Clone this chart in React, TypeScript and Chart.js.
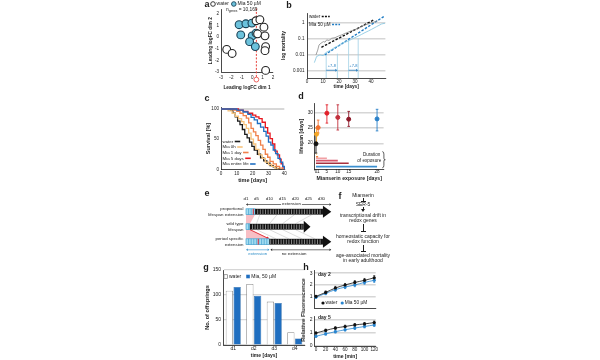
import React, { useEffect, useRef } from "react";
import { Chart, registerables } from "chart.js";

Chart.register(...registerables);

const FF = "'Liberation Sans', Arial, Helvetica, sans-serif";
const INK = "#1c1c1c";
const GRID = "#d6d6d6";

/* ---------------- a: MDS ---------------- */
const mdsWaterX = [-2.45, -1.93, 0.37, 0.74, 1.13, 0.52, 1.23, 1.29, 1.23, 1.29];
const mdsWaterY = [-1.05, -1.4, 1.42, 1.51, 0.87, 0.29, 0.12, -0.81, -1.16, -2.86];
const mdsMiaX = [-1.26, -0.61, -0.03, -1.1, 0.0, -0.25, 0.3, 0.37];
const mdsMiaY = [1.08, 1.16, 1.22, 0.2, 0.12, -0.38, -0.81, 0.35];
const mdsTicks = [-3, -2, -1, 0, 1, 2];
const mdsCut = 0.4;
const mdsLegend = ["water", "Mia 50 µM"];
const nGenesLabel = "= 10,169";

/* ---------------- b: mortality ---------------- */
const mortWaterRawT = [5.6, 6.7, 7.5, 8.75, 10.2, 11.25, 12.3, 13.75, 15.4, 17.5, 19.6, 21.7, 23.75, 25.8, 27.9, 30, 32, 34, 36.25, 38, 39.4, 41, 42.5, 44];
const mortWaterRaw = [0.01, 0.02, 0.042, 0.054, 0.068, 0.063, 0.087, 0.08, 0.11, 0.12, 0.15, 0.18, 0.22, 0.27, 0.33, 0.38, 0.46, 0.6, 0.75, 0.85, 0.96, 1.05, 1.2, 1.35];
const mortMiaRawT = [4.6, 6, 8.1, 10.2, 11.7, 14.4, 17.5, 19.5, 21.7, 24.8, 27.9, 30, 32, 34, 36.25, 38.5, 40.4, 43.5, 46.7, 48.75];
const mortMiaRaw = [0.0033, 0.008, 0.01, 0.009, 0.014, 0.019, 0.03, 0.036, 0.054, 0.068, 0.095, 0.12, 0.15, 0.19, 0.25, 0.32, 0.4, 0.59, 0.87, 0.96];
const mortWaterFitT = [9, 42];
const mortWaterFit = [0.03, 1.6];
const mortMiaFitT = [11, 48.7];
const mortMiaFit = [0.01, 2.8];
const mortTicks = [0.001, 0.01, 0.1, 1];
const mortTickLabels = ["0.001", "0.01", "0.1", "1"];
const mortXTicks = [0, 10, 20, 30, 40];
const mortLegend = ["water", "Mia 50 µM"];
const shiftDays = [12, 19, 26, 32];
const shiftLevels = [0.012, 0.012, 0.11, 0.11];
const shiftArrowLevel = 0.0011;
const shiftLabelLevel = 0.0021;
const shiftLabel = "+7-8";

/* ---------------- c: survival ---------------- */
const survLabels = ["water", "Mia 0h", "Mia 1 day", "Mia 5 days", "Mia entire life"];
const survColors = ["#1a1a1a", "#f6c27c", "#f0804a", "#e8161e", "#1f6fc2"];
const survWaterT = [0, 6, 7.5, 9, 10.5, 12, 13.5, 15, 16.5, 18, 19.5, 21, 23, 25, 27, 29, 31, 33, 35, 37];
const survWater = [100, 98, 93, 87, 80, 74, 66, 58, 52, 45, 38, 32, 25, 19, 14, 10, 6, 4, 1, 0];
const surv0hT = [0, 4.5, 7, 9, 11, 13, 14.5, 16, 17.5, 19, 20.5, 22, 24, 26, 28, 30, 32, 34, 36];
const surv0h = [100, 97, 93, 88, 84, 79, 74, 68, 60, 50, 42, 33, 24, 18, 12, 8, 5, 2, 0];
const surv1dT = [0, 8, 10, 12, 14, 16, 17.5, 19, 20.5, 22, 23.5, 25, 26.5, 28, 29.5, 31, 33, 35, 37, 39];
const surv1d = [100, 98, 96, 93, 89, 85, 77, 68, 62, 56, 48, 40, 33, 25, 20, 13, 9, 5, 2, 0];
const surv5dT = [0, 11, 14, 17, 20, 22, 24, 26, 28, 29.5, 31, 32.5, 34, 35.5, 37, 38, 39, 40];
const surv5d = [100, 98, 96, 93, 90, 87, 84, 78, 69, 60, 51, 42, 30, 24, 17, 9, 4, 0];
const survLifeT = [0, 10, 14, 17, 19, 21, 23, 25, 27, 28.5, 30, 31.5, 33, 34.5, 36, 37.5, 39, 40];
const survLife = [100, 98, 95, 91, 86, 82, 76, 70, 63, 55, 45, 40, 32, 26, 18, 12, 5, 0];
const survYTicks = [0, 50, 100];
const survXTicks = [0, 10, 20, 30, 40];

/* ---------------- d: exposure ---------------- */
const expDays = [0, 0.25, 1, 5, 10, 15, 28];
const expLifespan = [19.8, 23, 25.2, 30, 28.6, 28, 28.1];
const expErrLow = [16.7, 20, 23.4, 26.7, 24.4, 25.6, 24.1];
const expErrHigh = [23.3, 25, 27.7, 32.8, 32.8, 30.6, 31.3];
const expColors = ["#111111", "#f3a628", "#f07030", "#e2202a", "#c2303c", "#8e1a2a", "#2a80c8"];
const durDays = [0.25, 1, 5, 10, 15, 28];
const durLevel = [16.3, 15.5, 15, 14.2, 13.3, 12.2];
const durColors = ["#f3b650", "#f08040", "#f2a0a4", "#d8566a", "#a8303e", "#3a8fd0"];
const expXTicks = [0, 1, 5, 10, 15, 28];
const expYTicks = [20, 25, 30];
const durText = ["Duration", "of exposure"];

/* ---------------- e: diagram ---------------- */
const eDayTicks = [1, 5, 10, 15, 20, 25, 30];
const eRows = ["proportional", "wild type", "period specific"];
const eRowsSub = ["lifespan extension", "lifespan", "extension"];
const eRowY = [25.7, 40.7, 55.7];
const eBlueEnd = [4.5, 2.5, 10];
const eBodyEnd = [30.6, 23.2, 30.6];
const eTipEnd = [33.8, 25.8, 33.8];
const eRedMarks = [[3.8], [], [5.7]];
const eGuideDays = [5, 10, 15, 20];

/* ---------------- g: offspring ---------------- */
const offDays = ["d1", "d2", "d3", "d4"];
const offWater = [108.5, 122, 86.8, 25.6];
const offMia = [116, 98.6, 84, 13];
const offYTicks = [0, 50, 100, 150];
const offLegend = ["water", "Mia, 50 µM"];

/* ---------------- h: fluorescence ---------------- */
const fluoTime = [0, 20, 40, 60, 80, 100, 120];
const fluoD2Water = [1.0, 1.34, 1.72, 1.98, 2.2, 2.38, 2.6];
const fluoD2Mia = [0.92, 1.26, 1.58, 1.8, 1.98, 2.2, 2.38];
const fluoD2Err = [0.08, 0.12, 0.14, 0.13, 0.15, 0.16, 0.18];
const fluoD5Water = [1.0, 1.2, 1.38, 1.5, 1.62, 1.7, 1.8];
const fluoD5Mia = [0.75, 0.93, 1.1, 1.25, 1.38, 1.5, 1.62];
const fluoD5Err = [0.08, 0.09, 0.1, 0.1, 0.1, 0.11, 0.12];
const fluoXTicks = [0, 20, 40, 60, 80, 100, 120];
const fluoD2Ticks = [1, 2, 3];
const fluoD5Ticks = [0, 1, 2];
const fluoLegend = ["water", "Mia 50 µM"];

/* ---------------- helpers ---------------- */
const fnt = (s: number, b = false) => `${b ? "bold " : ""}${s}px ${FF}`;

function txt(ctx: any, s: string, x: number, y: number, size: number, o: any = {}) {
  ctx.save();
  ctx.font = fnt(size, !!o.bold);
  ctx.fillStyle = o.color || INK;
  ctx.textAlign = o.align || "left";
  ctx.textBaseline = "middle";
  const w = ctx.measureText(s).width;
  if (o.bg) {
    const x0 = o.align === "center" ? x - w / 2 : o.align === "right" ? x - w : x;
    ctx.fillStyle = o.bg;
    ctx.fillRect(x0 - 1, y - size / 2 - 0.5, w + 2, size + 1);
    ctx.fillStyle = o.color || INK;
  }
  ctx.fillText(s, x, y);
  ctx.restore();
  return w;
}
function seg(ctx: any, a: number, b: number, c: number, d: number) {
  ctx.beginPath();
  ctx.moveTo(a, b);
  ctx.lineTo(c, d);
  ctx.stroke();
}
function poly(ctx: any, pts: number[][]) {
  ctx.beginPath();
  pts.forEach((p, i) => (i ? ctx.lineTo(p[0], p[1]) : ctx.moveTo(p[0], p[1])));
  ctx.closePath();
  ctx.fill();
}
function dot(ctx: any, x: number, y: number, r: number, fill: string, stroke?: string) {
  ctx.save();
  ctx.beginPath();
  ctx.arc(x, y, r, 0, Math.PI * 2);
  ctx.fillStyle = fill;
  ctx.fill();
  if (stroke) {
    ctx.strokeStyle = stroke;
    ctx.lineWidth = 0.9;
    ctx.stroke();
  }
  ctx.restore();
}
function head(ctx: any, x: number, y: number, dir: number, s = 2) {
  poly(ctx, [[x, y], [x - dir * s * 1.4, y - s], [x - dir * s * 1.4, y + s]]);
}
function errBars(ctx: any, xs: any, ys: any, xv: number[], lo: number[], hi: number[], color: any, cap: number, lw: number) {
  ctx.save();
  ctx.lineWidth = lw;
  xv.forEach((x, i) => {
    const p = xs.getPixelForValue(x);
    const a = ys.getPixelForValue(lo[i]);
    const b = ys.getPixelForValue(hi[i]);
    ctx.strokeStyle = Array.isArray(color) ? color[i] : color;
    ctx.beginPath();
    ctx.moveTo(p, a);
    ctx.lineTo(p, b);
    ctx.moveTo(p - cap, a);
    ctx.lineTo(p + cap, a);
    ctx.moveTo(p - cap, b);
    ctx.lineTo(p + cap, b);
    ctx.stroke();
  });
  ctx.restore();
}

function base(pad: any) {
  return {
    responsive: false,
    animation: false,
    devicePixelRatio: 1,
    events: [],
    layout: { padding: pad },
    plugins: { legend: { display: false }, tooltip: { enabled: false }, title: { display: false } },
  };
}

function axis(o: any) {
  const isX = o.pos === "x";
  const sc: any = {
    type: o.type || "linear",
    afterFit: (s: any) => {
      if (isX) s.height = o.size;
      else s.width = o.size;
      s.paddingLeft = 0;
      s.paddingRight = 0;
      s.paddingTop = 0;
      s.paddingBottom = 0;
    },
    ticks: {
      display: o.noTicks ? false : true,
      font: { family: FF, size: o.fs || 4.6 },
      color: INK,
      padding: o.pad ?? 2,
      autoSkip: false,
      maxRotation: 0,
      minRotation: 0,
      callback: o.cb || ((v: any) => String(v)),
    },
    grid: {
      display: !!o.grid,
      drawTicks: false,
      color: o.gridColor || GRID,
      lineWidth: o.gridW || 1.2,
    },
    border: { display: true, color: INK, width: 0.8 },
    title: {
      display: !!o.title,
      text: o.title || "",
      font: { family: FF, size: o.tfs || 4.8, weight: "bold" },
      color: INK,
      padding: 0,
    },
  };
  if (o.min !== undefined) sc.min = o.min;
  if (o.max !== undefined) sc.max = o.max;
  if (o.ticks) sc.afterBuildTicks = (s: any) => { s.ticks = o.ticks.map((v: number) => ({ value: v })); };
  if (o.offset !== undefined) sc.offset = o.offset;
  return sc;
}

/* ---------------- chart configs ---------------- */
const aPlugin = {
  id: "aDecor",
  beforeDatasetsDraw(chart: any) {
    const { ctx, chartArea } = chart;
    const p = chart.scales.x.getPixelForValue(mdsCut);
    ctx.save();
    ctx.strokeStyle = "#e8403a";
    ctx.lineWidth = 1;
    ctx.setLineDash([2, 1.5]);
    seg(ctx, p, chartArea.top - 1, p, chartArea.bottom + 5);
    ctx.setLineDash([]);
    ctx.lineWidth = 0.8;
    ctx.beginPath();
    ctx.arc(p, chartArea.bottom + 7.6, 2.4, 0, Math.PI * 2);
    ctx.stroke();
    ctx.restore();
  },
  afterDraw(chart: any) {
    const { ctx, chartArea } = chart;
    let cx = 13;
    const ly = 4;
    dot(ctx, cx, ly, 2.3, "#ffffff", "#222");
    let w = txt(ctx, mdsLegend[0], cx + 3.6, ly, 5);
    cx = cx + 3.6 + w + 5;
    dot(ctx, cx, ly, 2.3, "#6cc2dc", "#1b4256");
    txt(ctx, mdsLegend[1], cx + 3.6, ly, 5);
    const nx = chartArea.left + 5;
    const ny = chartArea.top + 0.3;
    w = txt(ctx, "n", nx, ny, 4.8);
    const w2 = txt(ctx, "genes", nx + w, ny + 1.5, 3.2);
    txt(ctx, " " + nGenesLabel, nx + w + w2, ny, 4.8);
  },
};

const cfgA = () => ({
  type: "scatter",
  data: {
    datasets: [
      { data: mdsWaterX.map((x, i) => ({ x, y: mdsWaterY[i] })), pointRadius: 3.9, pointBorderWidth: 1.1, pointBackgroundColor: "#ffffff", pointBorderColor: "#222", clip: false },
      { data: mdsMiaX.map((x, i) => ({ x, y: mdsMiaY[i] })), pointRadius: 3.9, pointBorderWidth: 1.1, pointBackgroundColor: "#6cc2dc", pointBorderColor: "#1b4256", clip: false },
    ],
  },
  options: {
    ...base({ left: 7.5, top: 9.4, right: 7, bottom: 1.4 }),
    scales: {
      x: axis({ pos: "x", min: -3, max: 2, size: 18.6, ticks: mdsTicks, pad: 2.5, title: "Leading logFC dim 1" }),
      y: axis({ pos: "y", min: -3, max: 2.4, size: 13.5, ticks: mdsTicks, pad: 2, title: "Leading logFC dim 2" }),
    },
  },
  plugins: [aPlugin],
});

const bPlugin = {
  id: "bDecor",
  beforeDatasetsDraw(chart: any) {
    const { ctx } = chart;
    const x = chart.scales.x, y = chart.scales.y;
    ctx.save();
    ctx.strokeStyle = "#9fd0e6";
    ctx.lineWidth = 0.8;
    shiftDays.forEach((d, i) => {
      const p = x.getPixelForValue(d);
      seg(ctx, p, y.bottom, p, y.getPixelForValue(shiftLevels[i]));
    });
    ctx.restore();
  },
  afterDraw(chart: any) {
    const { ctx } = chart;
    const x = chart.scales.x, y = chart.scales.y;
    ctx.save();
    for (let k = 0; k + 1 < shiftDays.length; k += 2) {
      const a = x.getPixelForValue(shiftDays[k]);
      const b = x.getPixelForValue(shiftDays[k + 1]);
      const py = y.getPixelForValue(shiftArrowLevel);
      ctx.strokeStyle = "#2a7fc0";
      ctx.fillStyle = "#2a7fc0";
      ctx.lineWidth = 0.8;
      seg(ctx, a, py, b - 1.5, py);
      head(ctx, b, py, 1, 1.5);
      txt(ctx, shiftLabel, (a + b) / 2, y.getPixelForValue(shiftLabelLevel), 4, { align: "center", color: "#2a7fc0" });
    }
    const lx = 31;
    const rows = [16.5, 24.5];
    const cols = ["#111", "#1f7cc4"];
    rows.forEach((ly, i) => {
      const w = txt(ctx, mortLegend[i], lx, ly, 4.6);
      ctx.strokeStyle = cols[i];
      ctx.lineWidth = 1.3;
      ctx.setLineDash([2, 1.2]);
      seg(ctx, lx + w + 1.5, ly, lx + w + 9.5, ly);
      ctx.setLineDash([]);
    });
    ctx.restore();
  },
};

const cfgB = () => ({
  type: "line",
  data: {
    datasets: [
      { data: mortWaterRawT.map((t, i) => ({ x: t, y: mortWaterRaw[i] })), borderColor: "#8a8a8a", borderWidth: 0.8, pointRadius: 0 },
      { data: mortMiaRawT.map((t, i) => ({ x: t, y: mortMiaRaw[i] })), borderColor: "#8fcbe3", borderWidth: 0.9, pointRadius: 0 },
      { data: mortWaterFitT.map((t, i) => ({ x: t, y: mortWaterFit[i] })), borderColor: "#111", borderWidth: 1.4, borderDash: [2.5, 1.5], pointRadius: 0 },
      { data: mortMiaFitT.map((t, i) => ({ x: t, y: mortMiaFit[i] })), borderColor: "#1f7cc4", borderWidth: 1.4, borderDash: [2.5, 1.5], pointRadius: 0 },
    ],
  },
  options: {
    ...base({ left: 2.5, top: 13, right: 4.6, bottom: 2.5 }),
    scales: {
      x: axis({ pos: "x", min: 0, max: 49, size: 11.5, ticks: mortXTicks, pad: 0.5, title: "time [days]" }),
      y: axis({
        pos: "y", type: "logarithmic", min: 0.00036, max: 4.2, size: 26.5, ticks: mortTicks, pad: 2.5,
        title: "log mortality", grid: true, gridW: 1.5,
        cb: (v: any) => { const i = mortTicks.indexOf(v); return i >= 0 ? mortTickLabels[i] : ""; },
      }),
    },
  },
  plugins: [bPlugin],
});

const cPlugin = {
  id: "cLegend",
  afterDraw(chart: any) {
    const { ctx, chartArea } = chart;
    const offs = [27.8, 22.3, 16.8, 11, 5.3];
    survLabels.forEach((s, i) => {
      const y = chartArea.bottom - offs[i];
      const w = txt(ctx, s, chartArea.left + 1.5, y, 4.4);
      ctx.save();
      ctx.strokeStyle = survColors[i];
      ctx.lineWidth = 1.6;
      seg(ctx, chartArea.left + 3 + w, y, chartArea.left + 8.5 + w, y);
      ctx.restore();
    });
  },
};

const survSets = [
  [survWaterT, survWater],
  [surv0hT, surv0h],
  [surv1dT, surv1d],
  [surv5dT, surv5d],
  [survLifeT, survLife],
];

const cfgC = () => ({
  type: "line",
  data: {
    datasets: survSets.map((s, i) => ({
      data: s[0].map((t, j) => ({ x: t, y: s[1][j] })),
      borderColor: survColors[i],
      borderWidth: 1.3,
      stepped: true,
      pointRadius: 0,
      clip: false,
    })).reverse(),
  },
  options: {
    ...base({ left: 5.3, top: 15.8, right: 5.7, bottom: 4.3 }),
    scales: {
      x: axis({ pos: "x", min: 0, max: 40, size: 14.4, ticks: survXTicks, pad: 1.7, title: "time [days]", tfs: 5.5 }),
      y: axis({
        pos: "y", min: 0, max: 102, size: 15.7, ticks: survYTicks, pad: 2, title: "Survival [%]", tfs: 5.5,
        grid: true, gridW: 2, gridColor: (c: any) => (c.tick && c.tick.value === 100 ? "#d8d8d8" : "rgba(0,0,0,0)"),
      }),
    },
  },
  plugins: [cPlugin],
});

const dPlugin = {
  id: "dDecor",
  beforeDatasetsDraw(chart: any) {
    const { ctx } = chart;
    errBars(ctx, chart.scales.x, chart.scales.y, expDays, expErrLow, expErrHigh, expColors, 1.3, 0.9);
  },
  afterDraw(chart: any) {
    const { ctx } = chart;
    const x = chart.scales.x, y = chart.scales.y;
    const bx = x.getPixelForValue(30.4);
    const top = y.getPixelForValue(17.2);
    const bot = y.getPixelForValue(11.8);
    const mid = (top + bot) / 2;
    ctx.save();
    ctx.strokeStyle = INK;
    ctx.lineWidth = 0.7;
    ctx.beginPath();
    ctx.moveTo(bx, top);
    ctx.quadraticCurveTo(bx + 1.6, top, bx + 1.6, top + 2.5);
    ctx.lineTo(bx + 1.6, mid - 1.4);
    ctx.quadraticCurveTo(bx + 1.6, mid, bx + 3, mid);
    ctx.quadraticCurveTo(bx + 1.6, mid, bx + 1.6, mid + 1.4);
    ctx.lineTo(bx + 1.6, bot - 2.5);
    ctx.quadraticCurveTo(bx + 1.6, bot, bx, bot);
    ctx.stroke();
    ctx.restore();
    txt(ctx, durText[0], bx - 2, y.getPixelForValue(16.3), 4.6, { align: "right" });
    txt(ctx, durText[1], bx - 1, y.getPixelForValue(14.3), 4.6, { align: "right" });
  },
};

const cfgD = () => ({
  type: "scatter",
  data: {
    datasets: [
      ...durDays.map((d, i) => ({
        type: "line",
        data: [{ x: 0, y: durLevel[i] }, { x: d, y: durLevel[i] }],
        borderColor: durColors[i],
        borderWidth: 1.6,
        pointRadius: 0,
      })),
      {
        data: expDays.map((d, i) => ({ x: d, y: expLifespan[i] })),
        pointRadius: 2,
        pointBackgroundColor: expColors,
        pointBorderColor: expColors,
        clip: false,
      },
    ],
  },
  options: {
    ...base({ left: 8.7, top: 11.3, right: 6.4, bottom: 4.7 }),
    scales: {
      x: axis({ pos: "x", min: -0.5, max: 31, size: 12, ticks: expXTicks, pad: 0, title: "Mianserin exposure [days]", tfs: 5.2 }),
      y: axis({ pos: "y", min: 11.3, max: 33.3, size: 16.2, ticks: expYTicks, pad: 2, title: "lifespan [days]", tfs: 5, grid: true, gridW: 1.4 }),
    },
  },
  plugins: [dPlugin],
});

const ePlugin = {
  id: "eDiagram",
  afterDraw(chart: any) {
    const { ctx } = chart;
    const xs = chart.scales.x, ys = chart.scales.y;
    const X = (d: number) => xs.getPixelForValue(d);
    const Y = (v: number) => ys.getPixelForValue(v);
    const h = 2.9;
    const r = eRowY;
    ctx.save();
    const scale = (eBodyEnd[0] - 1) / (eBodyEnd[1] - 1);
    const shift = eBlueEnd[2] - eBlueEnd[1];
    ctx.strokeStyle = "#c6c6c6";
    ctx.lineWidth = 0.6;
    eGuideDays.forEach((k) => {
      seg(ctx, X(k), Y(r[1] - h), X(1 + (k - 1) * scale), Y(r[0] + h));
      seg(ctx, X(k), Y(r[1] + h), X(k + shift), Y(r[2] - h));
    });
    ctx.fillStyle = "rgba(242,128,140,0.5)";
    poly(ctx, [[X(1), Y(r[0] + h)], [X(eBlueEnd[0]), Y(r[0] + h)], [X(eBlueEnd[1]), Y(r[1] - h)], [X(1), Y(r[1] - h)]]);
    poly(ctx, [[X(1), Y(r[1] + h)], [X(eBlueEnd[1]), Y(r[1] + h)], [X(eBlueEnd[2]), Y(r[2] - h)], [X(1), Y(r[2] - h)]]);
    ctx.strokeStyle = "#e0202a";
    ctx.fillStyle = "#e0202a";
    ctx.lineWidth = 0.9;
    seg(ctx, X(eBlueEnd[1]), Y(r[1] + h), X(eBlueEnd[2]) - 2, Y(r[2] - h) - 0.8);
    poly(ctx, [[X(eBlueEnd[2]), Y(r[2] - h)], [X(eBlueEnd[2]) - 3.2, Y(r[2] - h) - 0.2], [X(eBlueEnd[2]) - 1.8, Y(r[2] - h) - 2.4]]);

    r.forEach((ry, i) => {
      const top = Y(ry - h), bot = Y(ry + h);
      ctx.fillStyle = "#a5ddf1";
      ctx.fillRect(X(1), top, X(eBlueEnd[i]) - X(1), bot - top);
      ctx.strokeStyle = "#2f95c9";
      ctx.lineWidth = 0.6;
      for (let d = 2; d < eBlueEnd[i]; d += 1) seg(ctx, X(d), top, X(d), bot);
      ctx.strokeRect(X(1), top, X(eBlueEnd[i]) - X(1), bot - top);
      ctx.fillStyle = "#111";
      ctx.fillRect(X(eBlueEnd[i]), top, X(eBodyEnd[i]) - X(eBlueEnd[i]), bot - top);
      ctx.strokeStyle = "#b4b4b4";
      ctx.lineWidth = 0.7;
      for (let d = Math.ceil(eBlueEnd[i]) + 0.5; d < eBodyEnd[i] - 0.3; d += 1) seg(ctx, X(d), top + 0.6, X(d), bot - 0.6);
      ctx.fillStyle = "#111";
      poly(ctx, [[X(eBodyEnd[i]), Y(ry - 6)], [X(eTipEnd[i]), Y(ry)], [X(eBodyEnd[i]), Y(ry + 6)]]);
      ctx.strokeStyle = "#e3242b";
      ctx.lineWidth = 1;
      eRedMarks[i].forEach((d) => seg(ctx, X(d), top, X(d), bot));
      txt(ctx, eRows[i], X(1) - 2.5, Y(ry - 3), 4.4, { align: "right" });
      txt(ctx, eRowsSub[i], X(1) - 2.5, Y(ry + 3), 4.4, { align: "right" });
    });

    eDayTicks.forEach((d) => txt(ctx, "d" + d, X(d), Y(12.5), 4.4, { align: "center" }));
    ctx.strokeStyle = INK;
    ctx.fillStyle = INK;
    ctx.lineWidth = 0.6;
    const ty = Y(18.5);
    seg(ctx, X(1) + 2, ty, X(eTipEnd[0]) - 2, ty);
    head(ctx, X(1), ty, -1, 1.3);
    head(ctx, X(eTipEnd[0]), ty, 1, 1.3);
    txt(ctx, "extension", X(18.5), ty - 1.2, 4.4, { align: "center", bg: "#fff" });

    const by = Y(63.8);
    ctx.strokeStyle = "#2f8fc9";
    ctx.fillStyle = "#2f8fc9";
    seg(ctx, X(1) + 2, by, X(eBlueEnd[2]) - 2, by);
    head(ctx, X(1), by, -1, 1.3);
    head(ctx, X(eBlueEnd[2]), by, 1, 1.3);
    txt(ctx, "extension", X((1 + eBlueEnd[2]) / 2), Y(67.3), 4.4, { align: "center", color: "#2f8fc9" });
    ctx.strokeStyle = INK;
    ctx.fillStyle = INK;
    seg(ctx, X(eBlueEnd[2]) + 3, by, X(eTipEnd[2]) - 2, by);
    head(ctx, X(eBlueEnd[2]) + 1, by, -1, 1.3);
    head(ctx, X(eTipEnd[2]), by, 1, 1.3);
    txt(ctx, "no extension", X(19.5), Y(67.3), 4.4, { align: "center" });
    ctx.restore();
  },
};

const cfgE = () => ({
  type: "scatter",
  data: { datasets: [{ data: [] }] },
  options: {
    ...base({ left: 46, top: 0, right: 18.6, bottom: 0 }),
    scales: {
      x: { type: "linear", min: 1, max: 30, display: false },
      y: { type: "linear", min: 0, max: 72, reverse: true, display: false },
    },
  },
  plugins: [ePlugin],
});

const gPlugin = {
  id: "gLegend",
  afterDraw(chart: any) {
    const { ctx } = chart;
    const ly = 14.5;
    ctx.save();
    ctx.fillStyle = "#fff";
    ctx.strokeStyle = "#777";
    ctx.lineWidth = 0.7;
    ctx.fillRect(24, ly - 1.8, 3.6, 3.6);
    ctx.strokeRect(24, ly - 1.8, 3.6, 3.6);
    const w = txt(ctx, offLegend[0], 29, ly, 5);
    ctx.fillStyle = "#1f6ec0";
    ctx.fillRect(29 + w + 5, ly - 1.8, 3.6, 3.6);
    txt(ctx, offLegend[1], 29 + w + 10, ly, 5);
    ctx.restore();
  },
};

const cfgG = () => ({
  type: "bar",
  data: {
    labels: offDays,
    datasets: [
      { data: offWater, backgroundColor: "#ffffff", borderColor: "#8a8a8a", borderWidth: 0.8, categoryPercentage: 0.76, barPercentage: 0.93 },
      { data: offMia, backgroundColor: "#1f6ec0", borderColor: "#175a9e", borderWidth: 0.6, categoryPercentage: 0.76, barPercentage: 0.93 },
    ],
  },
  options: {
    ...base({ left: 3.7, top: 8, right: 5, bottom: 1.7 }),
    scales: {
      x: axis({ pos: "x", type: "category", size: 13.3, pad: 1, title: "time [days]", fs: 5, tfs: 5, cb: (v: any, i: number) => offDays[i] }),
      y: axis({ pos: "y", min: 0, max: 150, size: 19.3, ticks: offYTicks, pad: 2, title: "No. of offsprings", fs: 5, tfs: 5.6, grid: true, gridW: 1.2 }),
    },
  },
  plugins: [gPlugin],
});

function hPlugin(waterV: number[], miaV: number[], err: number[], label: string, labelY: number, legend: boolean) {
  return {
    id: "hDecor" + label,
    beforeDatasetsDraw(chart: any) {
      const { ctx } = chart;
      const xs = chart.scales.x, ys = chart.scales.y;
      errBars(ctx, xs, ys, fluoTime, waterV.map((v, i) => v - err[i]), waterV.map((v, i) => v + err[i]), "#111", 1, 0.7);
      errBars(ctx, xs, ys, fluoTime, miaV.map((v, i) => v - err[i]), miaV.map((v, i) => v + err[i]), "#2a86d0", 1, 0.7);
    },
    afterDraw(chart: any) {
      const { ctx, chartArea } = chart;
      txt(ctx, label, chartArea.left + 3.5, labelY, 5, { bold: true });
      if (legend) {
        const ly = 41;
        dot(ctx, 33, ly, 1.6, "#111");
        const w = txt(ctx, fluoLegend[0], 35.5, ly, 4.8);
        dot(ctx, 35.5 + w + 5, ly, 1.6, "#2a86d0");
        txt(ctx, fluoLegend[1], 35.5 + w + 7.5, ly, 4.8);
      }
    },
  };
}

function cfgH(waterV: number[], miaV: number[], err: number[], top: boolean) {
  return () => ({
    type: "line",
    data: {
      datasets: [
        { data: fluoTime.map((t, i) => ({ x: t, y: waterV[i] })), borderColor: "#111", borderWidth: 0.8, pointRadius: 1.6, pointBackgroundColor: "#111", pointBorderWidth: 0, tension: 0.3, clip: false },
        { data: fluoTime.map((t, i) => ({ x: t, y: miaV[i] })), borderColor: "#2a86d0", borderWidth: 0.8, pointRadius: 1.6, pointBackgroundColor: "#2a86d0", pointBorderWidth: 0, tension: 0.3, clip: false },
      ],
    },
    options: {
      ...base(top ? { left: 0, top: 8.8, right: 14.3, bottom: 0 } : { left: 0, top: 4.1, right: 14.3, bottom: 0 }),
      scales: {
        x: top
          ? axis({ pos: "x", min: -3, max: 123, size: 1.2, ticks: fluoXTicks, noTicks: true })
          : axis({ pos: "x", min: -3, max: 123, size: 14, ticks: fluoXTicks, pad: 1, title: "time [min]", fs: 4.6, tfs: 5 }),
        y: top
          ? axis({ pos: "y", min: 0, max: 3.2, size: 24.5, ticks: fluoD2Ticks, pad: 2, fs: 5, grid: true, gridW: 1.4 })
          : axis({ pos: "y", min: 0, max: 2.3, size: 24.5, ticks: fluoD5Ticks, pad: 2, fs: 5, grid: true, gridW: 1.4 }),
      },
    },
    plugins: [hPlugin(waterV, miaV, err, top ? "day 2" : "day 5", top ? 13 : 6, top)],
  });
}

/* ---------------- components ---------------- */
function ChartCanvas({ left, top, width, height, config }: any) {
  const ref = useRef<HTMLCanvasElement | null>(null);
  useEffect(() => {
    const chart = new Chart(ref.current as HTMLCanvasElement, config());
    return () => chart.destroy();
  }, []);
  return (
    <div style={{ position: "absolute", left, top, width, height }}>
      <canvas ref={ref} width={width} height={height} style={{ width, height, display: "block" }} />
    </div>
  );
}

const letters: [string, number, number][] = [
  ["a", 207, 4], ["b", 289, 5], ["c", 207, 98], ["d", 301, 96],
  ["e", 207, 193], ["f", 340, 196], ["g", 206, 267], ["h", 306, 267],
];

const fLines: [string, number][] = [
  ["Mianserin", 195], ["SER-5", 204], ["transcriptional drift in", 214.5], ["redox genes", 220],
  ["homeostatic capacity for", 235.5], ["redox function", 241], ["age-associated mortality", 254.5], ["in early adulthood", 260],
];
const fInhib: [number, number][] = [[197.5, 201.6], [224, 231], [244.5, 251]];
const fArrow: [number, number][] = [[206.6, 211.2]];
const FX = 363;

function Centered({ x, y, size, bold, children, color }: any) {
  return (
    <div style={{ position: "absolute", left: x, top: y, transform: "translate(-50%,-50%)", fontFamily: FF, fontSize: size, fontWeight: bold ? "bold" : "normal", lineHeight: 1, whiteSpace: "nowrap", color: color || INK }}>
      {children}
    </div>
  );
}

export default function App() {
  return (
    <div style={{ position: "fixed", left: 0, top: 0, width: 600, height: 360, background: "#ffffff", overflow: "hidden" }}>
      <ChartCanvas left={200} top={0} width={80} height={92} config={cfgA} />
      <ChartCanvas left={278} top={0} width={112} height={92} config={cfgB} />
      <ChartCanvas left={200} top={92} width={90} height={96} config={cfgC} />
      <ChartCanvas left={290} top={92} width={100} height={94} config={cfgD} />
      <ChartCanvas left={200} top={186} width={140} height={72} config={cfgE} />
      <ChartCanvas left={200} top={262} width={110} height={98} config={cfgG} />
      <ChartCanvas left={290} top={262} width={100} height={50} config={cfgH(fluoD2Water, fluoD2Mia, fluoD2Err, true)} />
      <ChartCanvas left={290} top={312} width={100} height={48} config={cfgH(fluoD5Water, fluoD5Mia, fluoD5Err, false)} />

      {letters.map(([l, x, y]) => (
        <Centered key={l} x={x} y={y} size={9} bold>{l}</Centered>
      ))}

      {fLines.map(([t, y]) => (
        <Centered key={t} x={FX} y={y} size={5}>{t}</Centered>
      ))}
      {fInhib.map(([a, b], i) => (
        <React.Fragment key={"i" + i}>
          <div style={{ position: "absolute", left: FX - 0.4, top: a, width: 0.8, height: b - a, background: INK }} />
          <div style={{ position: "absolute", left: FX - 2.5, top: b - 0.4, width: 5, height: 0.8, background: INK }} />
        </React.Fragment>
      ))}
      {fArrow.map(([a, b], i) => (
        <React.Fragment key={"r" + i}>
          <div style={{ position: "absolute", left: FX - 0.4, top: a, width: 0.8, height: b - a - 2, background: INK }} />
          <div style={{ position: "absolute", left: FX - 2, top: b - 2.5, width: 0, height: 0, borderLeft: "2px solid transparent", borderRight: "2px solid transparent", borderTop: "3px solid " + INK }} />
        </React.Fragment>
      ))}

      <div style={{ position: "absolute", left: 303, top: 310, transform: "translate(-50%,-50%) rotate(-90deg)", fontFamily: FF, fontSize: 6, fontWeight: "bold", lineHeight: 1, whiteSpace: "nowrap", color: INK }}>
        Relative Fluorescence
      </div>
    </div>
  );
}
